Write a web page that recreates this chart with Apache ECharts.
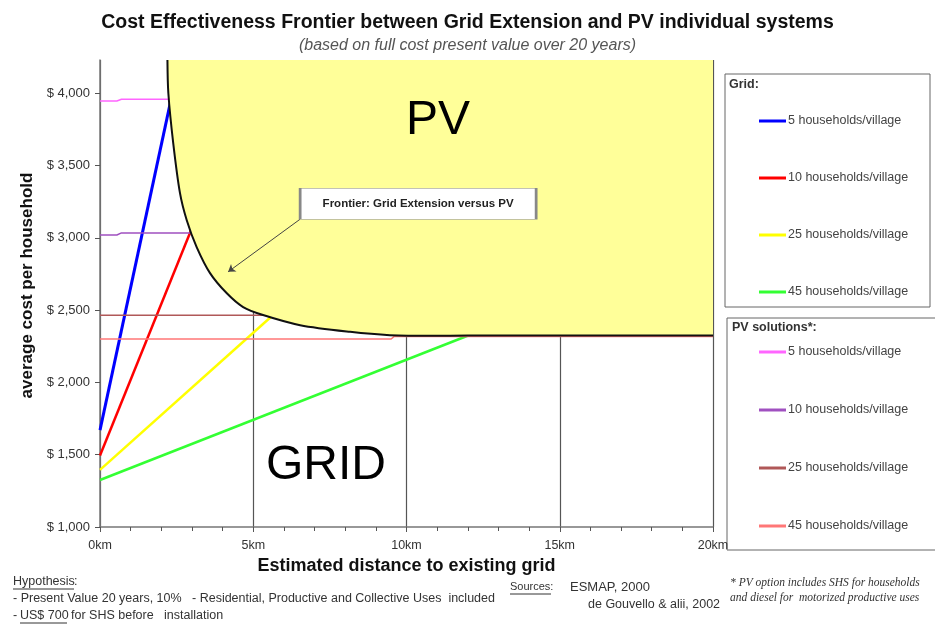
<!DOCTYPE html>
<html>
<head>
<meta charset="utf-8">
<script src="https://cdn.jsdelivr.net/npm/echarts@6/dist/echarts.min.js"></script>
<style>html,body{margin:0;padding:0;background:#fff}#c{width:935px;height:627px}</style>
</head>
<body>
<div id="c"></div>
<script>
// ---- data ----
const xTickLabels = ['0km', '5km', '10km', '15km', '20km'];
const yTickLabels = ['$ 1,000', '$ 1,500', '$ 2,000', '$ 2,500', '$ 3,000', '$ 3,500', '$ 4,000'];
const villageNames = ['5 households/village', '10 households/village', '25 households/village', '45 households/village'];

// Grid extension cost lines [km, $]
const grid5 = [[0, 1670], [2.29, 3930]];
const grid10 = [[0, 1495], [3.1, 3120]];
const grid25 = [[0, 1395], [5.72, 2480]];
const grid45 = [[0, 1325], [12.2, 2340]];

// PV solution cost lines [km, $]
const pv5 = [[0, 3947], [0.55, 3947], [0.7, 3958], [2.3, 3958]];
const pv10 = [[0, 3020], [0.55, 3020], [0.7, 3034], [3.1, 3034]];
const pv25 = [[0, 2465], [20, 2465]];
const pv45 = [[0, 2300], [9.5, 2300], [9.6, 2318], [20, 2318]];

// Frontier between grid extension and PV [km, $]
const frontier = [[2.20, 4230], [2.23, 4000], [2.39, 3654], [2.61, 3309], [2.83, 3122], [3.15, 2938],
  [3.59, 2756], [4.13, 2618], [4.67, 2521], [5.32, 2466], [6.53, 2396], [8.16, 2350], [9.46, 2327],
  [10.86, 2322], [12.0, 2325], [20, 2325]];

// annotation anchors [km, $]
const annotBox = [10.38, 3236];
const annotArrowFrom = [6.53, 3129];
const annotArrowTo = [4.18, 2765];
const pvLabelPos = [11.03, 3810];
const gridLabelPos = [7.37, 1425];

const FONT = 'Liberation Sans, Arial, sans-serif';
const SERIF = 'Liberation Serif, Times New Roman, serif';
const chart = echarts.init(document.getElementById('c'));

function lineSeries(name, data, color, width) {
  return {
    name: name, type: 'line', data: data, color: color, showSymbol: false, symbol: 'none',
    lineStyle: { color: color, width: width }, z: 2, silent: true, animation: false
  };
}

const gridColors = ['#0000FF', '#FF0000', '#FFFF00', '#33FF33'];
const pvColors = ['#FF66FF', '#A050C0', '#B05858', '#FF7777'];
const gridData = [grid5, grid10, grid25, grid45];
const pvData = [pv5, pv10, pv25, pv45];

const series = [];
gridData.forEach((d, i) => series.push(lineSeries('Grid ' + villageNames[i], d, gridColors[i], i === 0 ? 3 : 2.5)));
pvData.forEach((d, i) => series.push(lineSeries('PV ' + villageNames[i], d, pvColors[i], 1.5)));

series.push({
  name: 'Frontier', type: 'line', data: frontier, smooth: 0.3, showSymbol: false, symbol: 'none',
  lineStyle: { color: '#111', width: 2 }, areaStyle: { origin: 'end', color: '#FFFF99', opacity: 1 },
  z: 3, silent: true, animation: false
});

series.push({
  name: 'Annotations', type: 'scatter', data: [], z: 10, silent: true, animation: false,
  markPoint: {
    silent: true, animation: false, z: 20,
    data: [
      { coord: annotBox, symbol: 'rect', symbolSize: [236, 31],
        itemStyle: { color: '#fff', borderColor: '#888', borderWidth: 1 },
        label: { show: true, position: 'inside', formatter: 'Frontier: Grid Extension versus PV',
          fontFamily: FONT, fontWeight: 'bold', fontSize: 11.5, color: '#222' } },
      { coord: pvLabelPos, symbol: 'circle', symbolSize: 1, itemStyle: { color: 'rgba(0,0,0,0)' },
        label: { show: true, position: 'inside', formatter: 'PV', fontFamily: FONT, fontSize: 48, color: '#000' } },
      { coord: gridLabelPos, symbol: 'circle', symbolSize: 1, itemStyle: { color: 'rgba(0,0,0,0)' },
        label: { show: true, position: 'inside', formatter: 'GRID', fontFamily: FONT, fontSize: 48, color: '#000' } }
    ]
  },
  markLine: {
    silent: true, animation: false, z: 20, symbol: ['none', 'arrow'], symbolSize: 7,
    lineStyle: { color: '#444', width: 1, type: 'solid' }, label: { show: false },
    data: [[{ coord: annotArrowFrom }, { coord: annotArrowTo }]]
  }
});

function legend(names, top, gap) {
  return {
    orient: 'vertical', left: 759, top: top, itemGap: gap, itemWidth: 27, itemHeight: 3, icon: 'rect',
    padding: 0, selectedMode: false, data: names,
    formatter: n => n.replace(/^(Grid|PV) /, ''),
    textStyle: { fontFamily: FONT, fontSize: 12.5, color: '#444', lineHeight: 14, padding: [0, 0, 0, -3] }
  };
}

const txt = (x, y, text, extra) => ({ type: 'text', x: x, y: y, silent: true,
  style: Object.assign({ text: text, fontFamily: FONT, fontSize: 12.5, fill: '#333', verticalAlign: 'middle' }, extra || {}) });
const uline = (x1, x2, y) => ({ type: 'line', silent: true, shape: { x1: x1, y1: y, x2: x2, y2: y }, style: { stroke: '#333', lineWidth: 1 } });

chart.setOption({
  animation: false,
  backgroundColor: '#fff',
  title: {
    text: 'Cost Effectiveness Frontier between Grid Extension and PV individual systems',
    subtext: '(based on full cost present value over 20 years)',
    left: 'center', top: 8, itemGap: 5,
    textStyle: { fontFamily: FONT, fontSize: 19.5, fontWeight: 'bold', color: '#111', lineHeight: 20 },
    subtextStyle: { fontFamily: FONT, fontSize: 16, fontStyle: 'italic', color: '#555', lineHeight: 16 }
  },
  grid: { left: 100, right: 222, top: 60, bottom: 100, containLabel: false },
  xAxis: {
    type: 'value', min: 0, max: 20, interval: 5,
    name: 'Estimated distance to existing grid', nameLocation: 'middle', nameGap: 26,
    nameTextStyle: { fontFamily: FONT, fontSize: 18, fontWeight: 'bold', color: '#111' },
    axisLine: { show: true, lineStyle: { color: '#777', width: 1.5 } },
    axisTick: { show: true, length: 5, lineStyle: { color: '#555' } },
    minorTick: { show: true, splitNumber: 5, length: 4, lineStyle: { color: '#555' } },
    splitLine: { show: true, lineStyle: { color: '#555', width: 1.2 } },
    axisLabel: { fontFamily: FONT, fontSize: 12.5, color: '#333', margin: 12,
      formatter: v => xTickLabels[Math.round(v / 5)] || '' }
  },
  yAxis: {
    type: 'value', min: 1000, max: 4230, interval: 500,
    name: 'average cost per household', nameLocation: 'middle', nameGap: 55,
    nameTextStyle: { fontFamily: FONT, fontSize: 17, fontWeight: 'bold', color: '#111', padding: [0, 0, 0, 16] },
    axisLine: { show: true, lineStyle: { color: '#777', width: 1.5 } },
    axisTick: { show: true, length: 5, lineStyle: { color: '#555' } },
    splitLine: { show: false },
    axisLabel: { fontFamily: FONT, fontSize: 13, color: '#333', margin: 10, showMaxLabel: false,
      formatter: v => (v % 500 === 0 ? (yTickLabels[(v - 1000) / 500] || '') : '') }
  },
  legend: [legend(villageNames.map(n => 'Grid ' + n), 114, 43), legend(villageNames.map(n => 'PV ' + n), 345, 44)],
  series: series,
  graphic: [
    { type: 'rect', shape: { x: 725, y: 74, width: 205, height: 233 }, silent: true, z: -1,
      style: { fill: '#fff', stroke: '#666', lineWidth: 1 } },
    { type: 'rect', shape: { x: 727, y: 318, width: 212, height: 232 }, silent: true, z: -1,
      style: { fill: '#fff', stroke: '#666', lineWidth: 1 } },
    txt(729, 85, 'Grid:', { fontWeight: 'bold' }),
    txt(732, 328, 'PV solutions*:', { fontWeight: 'bold' }),
    txt(13, 582, 'Hypothesis'), uline(13, 74, 589), txt(74, 582, ':'),
    txt(13, 599, '- Present Value 20 years, 10%   - Residential, Productive and Collective Uses  included'),
    txt(13, 616, '- '), txt(20, 616, 'US$ 700'), uline(20, 67, 623),
    txt(71, 616, 'for SHS before   installation'),
    txt(510, 587, 'Sources:', { fontSize: 11 }), uline(510, 551, 594),
    txt(570, 587, 'ESMAP, 2000', { fontSize: 13 }),
    txt(588, 605, 'de Gouvello & alii, 2002', { fontSize: 12.5 }),
    txt(730, 583, '* PV option includes SHS for households', { fontFamily: SERIF, fontStyle: 'italic', fontSize: 11.5 }),
    txt(730, 598, 'and diesel for  motorized productive uses', { fontFamily: SERIF, fontStyle: 'italic', fontSize: 11.5 })
  ]
});
</script>
</body>
</html>
